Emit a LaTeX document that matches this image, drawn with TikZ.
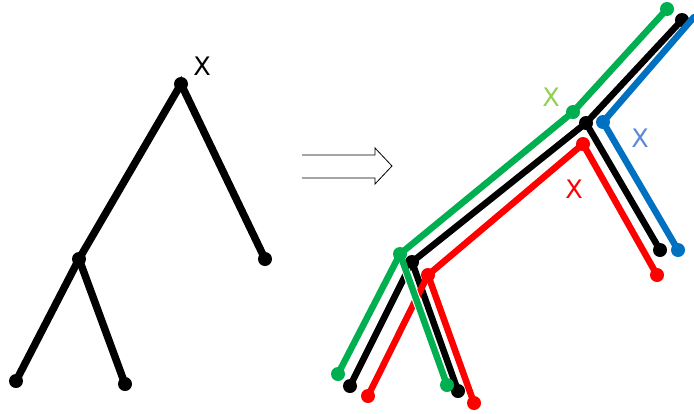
\documentclass[tikz,border=0pt]{standalone}
\usepackage{fontspec}
\setmainfont{DejaVu Sans}
\usetikzlibrary{calc}
\definecolor{tgreen}{RGB}{0,176,80}
\definecolor{tblue}{RGB}{0,112,192}
\definecolor{tred}{RGB}{255,0,0}
\definecolor{lgreen}{RGB}{146,208,80}
\definecolor{lblue}{RGB}{90,138,214}
\tikzset{
  branchL/.style={line width=7.5pt, line cap=round},
  branch/.style={line width=6.5pt, line cap=round},
  lbl/.style={font=\fontsize{25.5}{26}\selectfont, inner sep=0pt},
  hollow/.style={line width=0.8pt, line join=miter}
}
\begin{document}
\begin{tikzpicture}[x=1pt,y=-1pt]
\useasboundingbox (0,0) rectangle (694,413);
% ---------- left tree ----------
\coordinate (R) at (181,84);
\coordinate (I) at (79,259);
\coordinate (L1) at (16,381);
\coordinate (L2) at (125,384);
\coordinate (L3) at (265,259);
\draw[branchL] (L1) -- (I) -- (R) -- (L3);
\draw[branchL] (I) -- (L2);
\foreach \p in {R,I,L1,L2,L3} \fill (\p) circle (7);
\node[lbl] (xl) at (202,66) {X};
% ---------- arrow ----------
\coordinate (a1) at (302,155);
\coordinate (a2) at (375,155);
\coordinate (a3) at (375,148);
\coordinate (a4) at (392,166);
\coordinate (a5) at (375,184);
\coordinate (a6) at (375,178);
\coordinate (a7) at (302,178);
\draw[hollow] (a1) -- (a2) -- (a3) -- (a4) -- (a5) -- (a6) -- (a7);
% ---------- black tree ----------
\coordinate (kR) at (586,123);
\coordinate (kT) at (682,20);
\coordinate (kS) at (660,250);
\coordinate (kI) at (412,262);
\coordinate (kA) at (350,386);
\coordinate (kB) at (458,391);
\draw[branch] (kT) -- (kR) -- (kS);
\draw[branch] (kR) -- (kI) -- (kA);
\draw[branch] (kI) -- (kB);
\foreach \p in {kR,kT,kS,kI,kA,kB} \fill (\p) circle (7);
% ---------- blue tree ----------
\coordinate (bR) at (603,122);
\coordinate (bT) at (694,17);
\coordinate (bS) at (678,250);
\draw[branch, tblue] (bT) -- (bR) -- (bS);
\foreach \p in {bR,bS} \fill[tblue] (\p) circle (7);
% ---------- red tree ----------
\coordinate (rR) at (583,144);
\coordinate (rS) at (657,275);
\coordinate (rI) at (428,275);
\coordinate (rA) at (368,396);
\coordinate (rB) at (474,403);
\draw[branch, tred] (rS) -- (rR) -- (rI) -- (rA);
\draw[branch, tred] (rI) -- (rB);
\foreach \p in {rR,rS,rI,rA,rB} \fill[tred] (\p) circle (7);
% ---------- green tree ----------
\coordinate (gR) at (573,112);
\coordinate (gT) at (667,9);
\coordinate (gI) at (400,254);
\coordinate (gA) at (338,374);
\coordinate (gB) at (447,385);
\draw[branch, tgreen] (gT) -- (gR) -- (gI) -- (gA);
\draw[white, line width=8.5pt] ($(gI)!0.12!(gB)$) -- ($(gI)!0.88!(gB)$);
\draw[branch, tgreen] (gI) -- (gB);
\foreach \p in {gR,gT,gI,gA,gB} \fill[tgreen] (\p) circle (7);
% ---------- labels ----------
\node[lbl, lgreen] (xg) at (551,97) {X};
\node[lbl, lblue] (xb) at (640,138) {X};
\node[lbl, tred] (xr) at (574,189) {X};
\end{tikzpicture}
\end{document}
